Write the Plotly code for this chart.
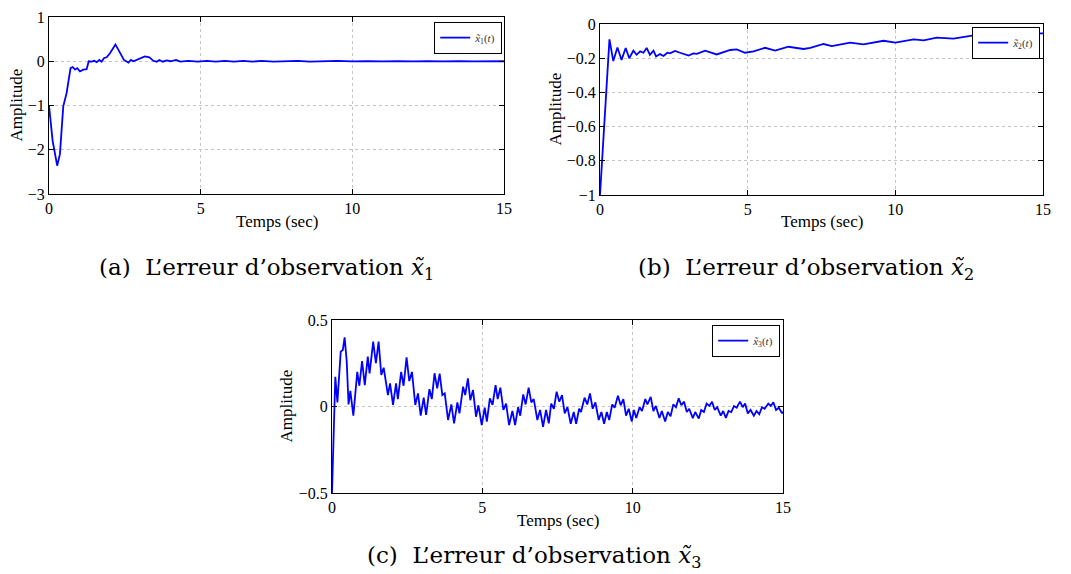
import plotly.graph_objects as go

# ---------- data ----------
t1 = [0.0, 0.12, 0.27, 0.36, 0.47, 0.58, 0.71, 0.78, 0.86, 0.93, 1.02, 1.13, 1.24, 1.31, 1.41, 1.49,
      1.57, 1.66, 1.73, 1.81, 1.90, 2.01, 2.19, 2.34, 2.47, 2.62, 2.70, 2.78, 2.89, 3.05, 3.16, 3.31,
      3.44, 3.55, 3.64, 3.75, 3.88, 4.01, 4.19, 4.32, 4.6, 4.9, 5.2, 5.5, 5.8, 6.1, 6.4, 6.7, 7.0,
      7.4, 7.8, 8.2, 8.6, 9.0, 9.5, 10.0, 10.5, 11.0, 11.5, 12.0, 12.5, 13.0, 13.5, 14.0, 14.5, 15.0]
x1 = [-1.0, -1.8, -2.36, -2.1, -1.02, -0.72, -0.155, -0.13, -0.19, -0.155, -0.23, -0.19, -0.18, 0.0, -0.01, 0.01,
      -0.02, 0.03, -0.01, 0.07, 0.09, 0.18, 0.38, 0.18, 0.03, -0.03, 0.03, 0.0, 0.03, 0.09, 0.11, 0.09,
      0.01, -0.01, 0.03, -0.01, 0.02, 0.0, 0.03, -0.01, 0.01, -0.01, 0.01, -0.01, 0.01, -0.01, 0.01, -0.01, 0.01,
      -0.01, 0.0, 0.01, -0.01, 0.0, 0.01, -0.005, 0.005, -0.005, 0.005, -0.005, 0.005, -0.005, 0.005, -0.005, 0.0, 0.0]

t2 = [0.0, 0.32, 0.45, 0.59, 0.73, 0.87, 0.99, 1.13, 1.24, 1.36, 1.47, 1.58, 1.69, 1.81, 1.90, 2.03,
      2.15, 2.28, 2.37, 2.54, 2.71, 3.0, 3.16, 3.28, 3.56, 3.95, 4.41, 4.63, 4.91, 5.2, 5.59, 5.93,
      6.38, 6.89, 7.12, 7.57, 7.85, 8.47, 8.92, 9.6, 10.0, 10.62, 10.96, 11.4, 11.97, 12.65, 13.44, 14.0, 15.0]
x2 = [-1.0, -0.09, -0.217, -0.137, -0.21, -0.14, -0.2, -0.156, -0.18, -0.16, -0.168, -0.14, -0.18, -0.156, -0.19, -0.176,
      -0.187, -0.168, -0.172, -0.158, -0.168, -0.185, -0.172, -0.175, -0.156, -0.178, -0.152, -0.148, -0.168, -0.16, -0.139, -0.156,
      -0.133, -0.146, -0.14, -0.117, -0.129, -0.109, -0.119, -0.098, -0.109, -0.09, -0.096, -0.08, -0.086, -0.066, -0.06, -0.058, -0.055]

t3 = [0.0, 0.11, 0.18, 0.29, 0.36, 0.42, 0.49, 0.55, 0.61, 0.71, 0.84, 0.91, 1.0, 1.09, 1.19, 1.25,
      1.37, 1.46, 1.55, 1.64, 1.72, 1.86, 1.93, 2.03, 2.13, 2.19, 2.30, 2.38, 2.48, 2.57, 2.66, 2.77,
      2.86, 2.95, 3.05, 3.13, 3.24, 3.32, 3.41, 3.50, 3.58, 3.67, 3.75, 3.86, 3.97, 4.06, 4.17, 4.24,
      4.36, 4.43, 4.52, 4.60, 4.69, 4.79, 4.87, 4.98, 5.08, 5.15, 5.25, 5.34, 5.44, 5.51, 5.60, 5.70,
      5.79, 5.89, 6.0, 6.09, 6.19, 6.26, 6.36, 6.44, 6.54, 6.63, 6.71, 6.83, 6.92, 7.02, 7.12, 7.21,
      7.29, 7.38, 7.47, 7.56, 7.65, 7.74, 7.83, 7.94, 8.04, 8.12, 8.22, 8.28, 8.40, 8.49, 8.58, 8.67,
      8.76, 8.87, 8.96, 9.05, 9.14, 9.22, 9.32, 9.40, 9.51, 9.60, 9.69, 9.78, 9.87, 9.97, 10.04, 10.12,
      10.23, 10.31, 10.42, 10.49, 10.60, 10.69, 10.77, 10.89, 10.97, 11.08, 11.17, 11.26, 11.35, 11.44,
      11.53, 11.62, 11.71, 11.80, 11.88, 12.0, 12.08, 12.20, 12.28, 12.37, 12.46, 12.55, 12.64, 12.73,
      12.81, 12.93, 13.01, 13.10, 13.19, 13.28, 13.37, 13.46, 13.57, 13.66, 13.74, 13.83, 13.92, 14.03,
      14.12, 14.21, 14.30, 14.39, 14.51, 14.59, 14.68, 14.77, 14.86, 14.97, 15.0]
x3 = [-0.5, 0.172, 0.024, 0.317, 0.327, 0.40, 0.26, 0.012, 0.09, -0.053, 0.20, 0.12, 0.263, 0.124, 0.288, 0.192,
      0.375, 0.25, 0.375, 0.182, 0.224, 0.066, 0.134, 0.009, 0.134, 0.043, 0.20, 0.12, 0.284, 0.147, 0.20, 0.009,
      0.076, -0.053, 0.051, -0.049, 0.10, 0.043, 0.192, 0.105, 0.19, 0.066, 0.076, -0.078, 0.012, -0.097, 0.024, -0.04,
      0.115, 0.066, 0.163, 0.036, 0.095, -0.059, 0.007, -0.107, -0.007, -0.087, 0.047, 0.009, 0.124, 0.043, 0.109, -0.02,
      0.017, -0.107, -0.026, -0.107, -0.004, -0.053, 0.07, 0.012, 0.109, 0.024, 0.043, -0.078, -0.02, -0.117, -0.02, -0.097,
      0.017, -0.013, 0.086, 0.028, 0.066, -0.04, -0.004, -0.10, -0.032, -0.10, -0.013, -0.032, 0.051, 0.012, 0.076, -0.013,
      0.024, -0.078, -0.032, -0.10, -0.032, -0.078, 0.012, -0.007, 0.062, 0.007, 0.043, -0.053, -0.013, -0.087, -0.02, -0.067,
      -0.004, -0.026, 0.043, 0.012, 0.055, -0.026, 0.003, -0.066, -0.026, -0.087, -0.032, -0.057, 0.012, -0.004,
      0.047, 0.007, 0.028, -0.032, -0.013, -0.067, -0.032, -0.07, -0.02, -0.032, 0.017, 0.003, 0.028, -0.02,
      -0.004, -0.053, -0.026, -0.066, -0.026, -0.032, 0.003, -0.007, 0.028, -0.004, 0.017, -0.04, -0.02, -0.053,
      -0.026, -0.045, -0.004, -0.013, 0.017, 0.003, 0.024, -0.02, -0.007, -0.04, -0.03]

x_ticks = [0, 5, 10, 15]
y1_ticks = [-3, -2, -1, 0, 1]
y2_ticks = [-1, -0.8, -0.6, -0.4, -0.2, 0]
y3_ticks = [-0.5, 0, 0.5]

legend_names = ["<i>x\u0303</i><sub>1</sub>(<i>t</i>)",
                "<i>x\u0303</i><sub>2</sub>(<i>t</i>)",
                "<i>x\u0303</i><sub>3</sub>(<i>t</i>)"]
NB = "\u00a0\u00a0"
captions = ["(a)" + NB + "L\u2019erreur d\u2019observation <i>x\u0303</i><sub>1</sub>",
            "(b)" + NB + "L\u2019erreur d\u2019observation <i>x\u0303</i><sub>2</sub>",
            "(c)" + NB + "L\u2019erreur d\u2019observation <i>x\u0303</i><sub>3</sub>"]
xlabel = "Temps (sec)"
ylabel = "Amplitude"

# ---------- figure ----------
W, H = 1071, 574
SERIF = "Liberation Serif, Times New Roman, serif"
CAPFONT = "DejaVu Serif, serif"
BLUE = "#0000ff"

def px_x(p):
    return p / W

def px_y(p):
    return 1 - p / H

# plot boxes in pixels: (left, right, top, bottom)
boxes = [(49, 504, 17, 194), (600, 1043, 24, 195), (332, 783, 320, 493)]

fig = go.Figure()
series = [(t1, x1), (t2, x2), (t3, x3)]
for i, (t, v) in enumerate(series):
    sfx = "" if i == 0 else str(i + 1)
    fig.add_trace(go.Scatter(
        x=t, y=v, mode="lines", name=legend_names[i],
        line=dict(color=BLUE, width=1.8),
        xaxis="x" + sfx, yaxis="y" + sfx, legend="legend" + sfx,
    ))

yticks_all = [y1_ticks, y2_ticks, y3_ticks]
yranges = [[-3, 1], [-1, 0], [-0.5, 0.5]]
axis_common = dict(
    showline=True, linecolor="black", linewidth=1.2, mirror="ticks",
    ticks="inside", ticklen=5, tickcolor="black", automargin=False,
    showgrid=True, gridcolor="#c4c4c4", griddash="dot", gridwidth=1,
    zeroline=False, tickfont=dict(family=SERIF, size=16, color="black"),
)
layout = dict(width=W, height=H, margin=dict(l=0, r=0, t=0, b=0, autoexpand=False),
              template="none",
              paper_bgcolor="white", plot_bgcolor="white", showlegend=True)

legend_pos = [(502, 22), (1040, 27), (780, 325)]
for i, (l, r, tp, bt) in enumerate(boxes):
    sfx = "" if i == 0 else str(i + 1)
    layout["xaxis" + sfx] = dict(axis_common, domain=[px_x(l), px_x(r)], range=[0, 15],
                                 tickvals=x_ticks, anchor="y" + sfx)
    layout["yaxis" + sfx] = dict(axis_common, domain=[px_y(bt), px_y(tp)], range=yranges[i],
                                 tickvals=yticks_all[i], anchor="x" + sfx)
    lx, ly = legend_pos[i]
    layout["legend" + sfx] = dict(x=px_x(lx), y=px_y(ly), xanchor="right", yanchor="top",
                                  bordercolor="black", borderwidth=1.2, bgcolor="white",
                                  font=dict(family=SERIF, size=11, color="#333"),
                                  itemwidth=30, tracegroupgap=0)

fig.update_layout(**layout)

ann = []
xlabel_y = [222, 222, 520]
ylabel_x = [16, 555, 286]
for i, (l, r, tp, bt) in enumerate(boxes):
    ann.append(dict(text=xlabel, x=px_x((l + r) / 2), y=px_y(xlabel_y[i]), xref="paper", yref="paper",
                    xanchor="center", yanchor="middle",
                    showarrow=False, font=dict(family=SERIF, size=17, color="black")))
    ann.append(dict(text=ylabel, x=px_x(ylabel_x[i]), y=px_y((tp + bt) / 2), xref="paper", yref="paper",
                    xanchor="center", yanchor="middle",
                    showarrow=False, textangle=-90, font=dict(family=SERIF, size=17, color="black")))

cap_pos = [(266, 269), (806, 269), (534, 557)]
for i, (cx, cy) in enumerate(cap_pos):
    ann.append(dict(text=captions[i], x=px_x(cx), y=px_y(cy), xref="paper", yref="paper",
                    xanchor="center", yanchor="middle",
                    showarrow=False, font=dict(family=CAPFONT, size=23, color="black")))
fig.update_layout(annotations=ann)

fig.write_html("out.html", config={"displayModeBar": False},
               post_script="document.body.style.margin='0px';document.body.style.overflow='hidden';")
